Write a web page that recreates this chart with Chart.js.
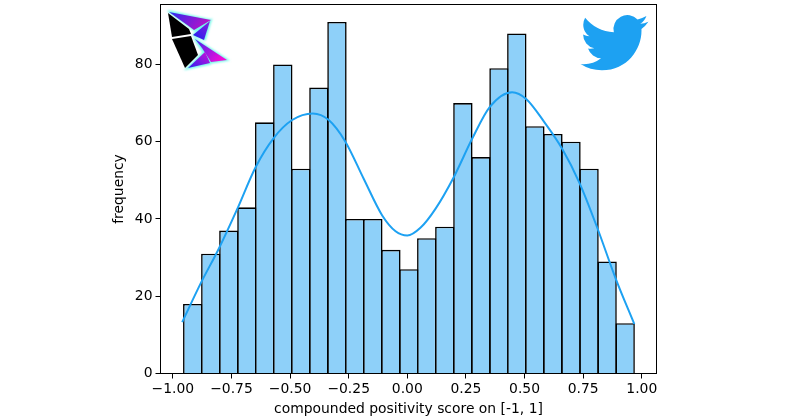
<!DOCTYPE html>
<html>
<head>
<meta charset="utf-8">
<style>
html,body{margin:0;padding:0;background:#fff;}
#wrap{position:relative;width:800px;height:417px;overflow:hidden;}
#myChart{position:absolute;left:0;top:0;}
#logos{position:absolute;left:0;top:0;}
</style>
<script src="https://cdn.jsdelivr.net/npm/chart.js@4"></script>
</head>
<body>
<div id="wrap">
<canvas id="myChart" width="800" height="417"></canvas>
<svg id="logos" width="800" height="417" viewBox="0 0 800 417">
  <defs>
    <linearGradient id="g1" x1="0" y1="0" x2="1" y2="0.3">
      <stop offset="0" stop-color="#2a2cf0"/>
      <stop offset="1" stop-color="#b414c8"/>
    </linearGradient>
    <linearGradient id="g2" x1="0" y1="1" x2="1" y2="0">
      <stop offset="0" stop-color="#1a20f0"/>
      <stop offset="1" stop-color="#8a1ee0"/>
    </linearGradient>
    <linearGradient id="g3" x1="0" y1="0" x2="1" y2="0.5">
      <stop offset="0" stop-color="#3a28f0"/>
      <stop offset="1" stop-color="#f00cd8"/>
    </linearGradient>
    <linearGradient id="g4" x1="0" y1="1" x2="1" y2="0">
      <stop offset="0" stop-color="#2a20f0"/>
      <stop offset="1" stop-color="#d010d8"/>
    </linearGradient>
    <filter id="glow" x="-20%" y="-20%" width="140%" height="140%">
      <feGaussianBlur stdDeviation="0.8"/>
    </filter>
  </defs>
  <g filter="url(#glow)" fill="#70f8e8" stroke="#70f8e8" stroke-width="1.4">
    <polygon points="168,11 211,20 195,31"/>
    <polygon points="211,20 193,35 205,40"/>
    <polygon points="194,38 228,60 210,63"/>
    <polygon points="205,51 210,64 186,69"/>
  </g>
  <polygon points="169,12 211,20 194,30 190,27" fill="url(#g1)"/>
  <polygon points="210,21 193,35 204,40" fill="url(#g2)"/>
  <polygon points="195,39 227,60 211,62 202,48" fill="url(#g3)"/>
  <polygon points="205,52 210,63 188,68" fill="url(#g4)"/>
  <polygon points="168,13 189,29 191,34 172,37" fill="#000"/>
  <polygon points="172,39 191,36 198,55 185,68" fill="#000"/>
  <g transform="translate(580.5 8.7) scale(2.83)">
    <path fill="#1da1f2" d="M23.953 4.57a10 10 0 01-2.825.775 4.958 4.958 0 002.163-2.723c-.951.555-2.005.959-3.127 1.184a4.92 4.92 0 00-8.384 4.482C7.69 8.095 4.067 6.13 1.64 3.162a4.822 4.822 0 00-.666 2.475c0 1.71.87 3.213 2.188 4.096a4.904 4.904 0 01-2.228-.616v.06a4.923 4.923 0 003.946 4.827 4.996 4.996 0 01-2.212.085 4.936 4.936 0 004.604 3.417 9.867 9.867 0 01-6.102 2.105c-.39 0-.779-.023-1.17-.067a13.995 13.995 0 007.557 2.209c9.053 0 13.998-7.496 13.998-13.985 0-.21 0-.42-.015-.63A9.935 9.935 0 0024 4.59z"/>
  </g>
</svg>
</div>
<script>
var binCenters = [-0.915,-0.838,-0.761,-0.684,-0.608,-0.531,-0.454,-0.377,-0.300,-0.224,-0.147,-0.070,0.007,0.083,0.160,0.237,0.314,0.391,0.467,0.544,0.621,0.698,0.775,0.852,0.929];
var binCounts = [18,31,37,43,65,80,53,74,91,40,40,32,27,35,38,70,56,79,88,64,62,60,53,29,13];
var kdeX = [-0.960,-0.878,-0.804,-0.725,-0.647,-0.569,-0.491,-0.403,-0.335,-0.264,-0.186,-0.107,-0.050,0.000,0.056,0.120,0.198,0.277,0.352,0.447,0.508,0.585,0.661,0.736,0.812,0.889,0.968];
var kdeY = [13.3,23.7,32.3,42.6,53.4,61.0,65.6,67.3,65.6,60.0,50.4,40.9,36.8,35.7,37.7,42.6,50.8,60.8,69.0,72.8,71.0,65.0,58.1,49.1,37.4,24.5,12.8];
var xTicks = [-1,-0.75,-0.5,-0.25,0,0.25,0.5,0.75,1];
var yTicks = [0,20,40,60,80];

var font = "'DejaVu Sans'";

function toPoints(xs, ys){
  var out = [];
  for(var i = 0;i < xs.length;i++){
    out.push({x: xs[i], y: ys[i]});
  }
  return out;
}

// top and right spines, chart.js only draws the two axis borders
var frame = {
  id: "frame",
  afterDraw: function(chart){
    var a = chart.chartArea, c = chart.ctx;
    c.save();
    c.strokeStyle = "#000";
    c.lineWidth = 1;
    c.strokeRect(a.left, a.top, a.right - a.left, a.bottom - a.top);
    c.restore();
  }
};

Chart.defaults.font.family = font;
Chart.defaults.color = "#000";

new Chart(document.getElementById("myChart").getContext("2d"), {
  type: "bar",
  plugins: [frame],
  data: {
    datasets: [{
      type: "line",
      order: 0,
      data: toPoints(kdeX, kdeY),
      borderColor: "#1da1f2",
      borderWidth: 2,
      pointRadius: 0,
      cubicInterpolationMode: "monotone",
      fill: false
    }, {
      type: "bar",
      order: 1,
      data: toPoints(binCenters, binCounts),
      backgroundColor: "#8ed0f9",
      borderColor: "#000",
      borderWidth: 1.6,
      // bars overlap by one border so neighbours share a single line
      barPercentage: 1.089,
      categoryPercentage: 1
    }]
  },
  options: {
    responsive: false,
    animation: false,
    layout: {padding: {top: 4.5, right: 143.5, left: 0, bottom: 0}},
    plugins: {legend: {display: false}, tooltip: {enabled: false}},
    scales: {
      x: {
        type: "linear",
        offset: false,
        min: -1.0525,
        max: 1.0627,
        afterFit: function(s){ s.height = 43.5; s.paddingLeft = 0; s.paddingRight = 0; },
        afterBuildTicks: function(s){ s.ticks = xTicks.map(function(v){ return {value: v}; }); },
        grid: {offset: false, drawOnChartArea: false, tickLength: 5, tickColor: "#000", tickWidth: 1},
        border: {color: "#000", width: 1},
        ticks: {
          font: {size: 13.9},
          padding: 3,
          maxRotation: 0,
          autoSkip: false,
          callback: function(v){ return (v < 0 ? "\u2212" : "") + Math.abs(v).toFixed(2); }
        },
        title: {display: true, text: "compounded positivity score on [-1, 1]", font: {size: 13.9, lineHeight: 1.05}, padding: {top: 2, bottom: 0}}
      },
      y: {
        min: 0,
        max: 95.5,
        afterFit: function(s){ s.width = 160.5; s.paddingTop = 0; s.paddingBottom = 0; },
        afterBuildTicks: function(s){ s.ticks = yTicks.map(function(v){ return {value: v}; }); },
        grid: {drawOnChartArea: false, tickLength: 5, tickColor: "#000", tickWidth: 1},
        border: {color: "#000", width: 1},
        ticks: {font: {size: 13.9}, padding: 3, autoSkip: false},
        title: {display: true, text: "frequency", font: {size: 13.9}, padding: {top: 111, bottom: 0}}
      }
    }
  }
});
</script>
</body>
</html>
